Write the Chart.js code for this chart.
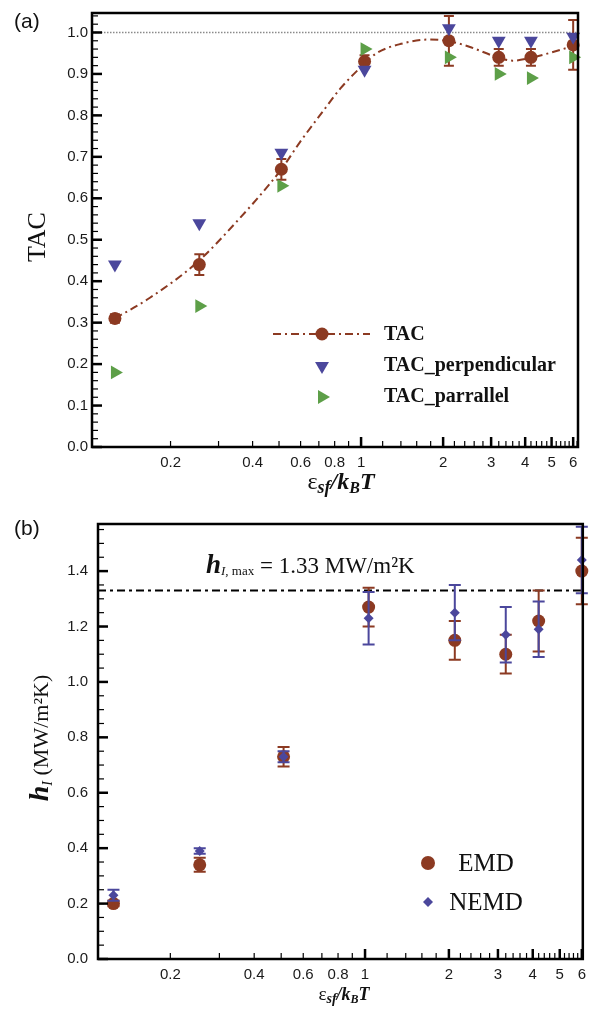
<!DOCTYPE html>
<html>
<head>
<meta charset="utf-8">
<title>TAC and interfacial thermal conductance</title>
<script src="https://cdn.jsdelivr.net/npm/chart.js@4.4.1/dist/chart.umd.min.js"></script>
<style>
  body { margin: 0; background: #fff; }
  .panel { position: absolute; left: 0; width: 593px; }
  #panelA { top: 0; height: 505px; }
  #panelB { top: 505px; height: 510px; }
</style>
</head>
<body>
<div class="panel" id="panelA"><canvas id="tacChart"></canvas></div>
<div class="panel" id="panelB"><canvas id="hChart"></canvas></div>
<script>
// eps_sf / kB T for each simulation
const epsValues = [0.125, 0.255, 0.51, 1.03, 2.1, 3.2, 4.2, 6.0];

// (a) thermal accommodation coefficient
const tacValues = [0.31, 0.44, 0.67, 0.93, 0.98, 0.94, 0.94, 0.97];
const tacErrors = [0.01, 0.025, 0.025, 0.015, 0.06, 0.02, 0.02, 0.06];
const tacPerpValues = [0.44, 0.54, 0.71, 0.91, 1.01, 0.98, 0.98, 0.99];
const tacParaValues = [0.18, 0.34, 0.63, 0.96, 0.94, 0.90, 0.89, 0.94];

// dash-dot fit curve
const fitEps = [0.125, 0.168, 0.25, 0.34, 0.51, 0.596, 0.725, 0.84, 1.03, 1.14, 1.39, 1.79, 2.1, 2.51, 3.2, 3.6, 4.2, 6.0];
const fitTac = [0.31, 0.36, 0.445, 0.535, 0.67, 0.735, 0.81, 0.865, 0.925, 0.95, 0.972, 0.983, 0.979, 0.965, 0.939, 0.932, 0.939, 0.967];

// (b) interfacial conductance h_I (MW/m2K)
const emdValues = [0.20, 0.34, 0.73, 1.27, 1.15, 1.10, 1.22, 1.40];
const emdErrors = [0.01, 0.025, 0.035, 0.07, 0.07, 0.07, 0.11, 0.12];
const nemdValues = [0.23, 0.39, 0.73, 1.23, 1.25, 1.17, 1.19, 1.44];
const nemdErrors = [0.02, 0.01, 0.02, 0.095, 0.10, 0.10, 0.10, 0.12];
const hMax = 1.33;

// tick labels
const xLabels = [0.2, 0.4, 0.6, 0.8, 1, 2, 3, 4, 5, 6];
const xLongTicks = [1, 2, 3, 4, 5, 6];
const xShortTicks = [0.2, 0.3, 0.4, 0.5, 0.6, 0.7, 0.8, 0.9, 1.2, 1.4, 1.6, 1.8, 2.2, 2.4, 2.6, 2.8,
  3.2, 3.4, 3.6, 3.8, 4.2, 4.4, 4.6, 4.8, 5.2, 5.4, 5.6, 5.8, 6.2];
const tacYLabels = [0, 0.1, 0.2, 0.3, 0.4, 0.5, 0.6, 0.7, 0.8, 0.9, 1.0];
const hYLabels = [0, 0.2, 0.4, 0.6, 0.8, 1.0, 1.2, 1.4];

const BROWN = "#8c3a22";
const BLUE = "#4b479c";
const GREEN = "#5d9f48";
const SERIF = '"Liberation Serif", "Times New Roman", serif';
const SANS = '"Liberation Sans", Arial, sans-serif';

function points(xs, ys) {
  return xs.map((x, i) => ({ x: x, y: ys[i] }));
}

function steps(max, step) {
  const out = [];
  for (let v = 0; v <= max + 1e-9; v += step) out.push(Math.round(v * 1000) / 1000);
  return out;
}

function drawRuns(ctx, runs, x, y, center) {
  let total = 0;
  runs.forEach(r => { ctx.font = r.font; r.w = ctx.measureText(r.t).width; total += r.w; });
  let cx = center ? x - total / 2 : x;
  runs.forEach(r => {
    ctx.font = r.font;
    ctx.fillText(r.t, cx, y + (r.dy || 0));
    cx += r.w;
  });
}

// error bars, inward ticks and box frame
const decorPlugin = {
  id: "decor",
  beforeDatasetsDraw(chart, args, opts) {
    const { ctx, chartArea: a, scales } = chart;
    if (opts.refLine == null) return;
    const py = scales.y.getPixelForValue(opts.refLine);
    ctx.save();
    ctx.strokeStyle = opts.refColor;
    ctx.lineWidth = opts.refWidth;
    ctx.setLineDash(opts.refDash);
    ctx.beginPath();
    ctx.moveTo(a.left, py);
    ctx.lineTo(a.right, py);
    ctx.stroke();
    ctx.restore();
  },
  afterDatasetDraw(chart, args) {
    const ds = chart.data.datasets[args.index];
    if (!ds.errors) return;
    const { ctx, scales } = chart;
    ctx.save();
    ctx.strokeStyle = ds.errorColor;
    ctx.lineWidth = 2;
    args.meta.data.forEach((pt, i) => {
      const top = scales.y.getPixelForValue(ds.data[i].y + ds.errors[i]);
      const bot = scales.y.getPixelForValue(ds.data[i].y - ds.errors[i]);
      const c = ds.capWidth / 2;
      ctx.beginPath();
      ctx.moveTo(pt.x, top); ctx.lineTo(pt.x, bot);
      ctx.moveTo(pt.x - c, top); ctx.lineTo(pt.x + c, top);
      ctx.moveTo(pt.x - c, bot); ctx.lineTo(pt.x + c, bot);
      ctx.stroke();
    });
    ctx.restore();
  },
  afterDraw(chart, args, opts) {
    const { ctx, chartArea: a, scales: { x, y } } = chart;
    ctx.save();
    ctx.strokeStyle = "#000";
    const tick = (list, len, w, axis) => {
      ctx.lineWidth = w;
      list.forEach(v => {
        if (axis === "x") {
          if (v < x.min || v > x.max) return;
          const px = x.getPixelForValue(v);
          ctx.beginPath(); ctx.moveTo(px, a.bottom); ctx.lineTo(px, a.bottom - len); ctx.stroke();
        } else {
          if (v < y.min || v > y.max) return;
          const py = y.getPixelForValue(v);
          ctx.beginPath(); ctx.moveTo(a.left, py); ctx.lineTo(a.left + len, py); ctx.stroke();
        }
      });
    };
    tick(xShortTicks, 6, 1.2, "x");
    tick(xLongTicks, 10, 2.5, "x");
    tick(opts.yMinor, 6, 1.2, "y");
    tick(opts.yMajor, 10, 2.5, "y");
    ctx.lineWidth = 2.5;
    ctx.strokeRect(a.left, a.top, a.right - a.left, a.bottom - a.top);
    ctx.restore();
    ctx.save();
    ctx.fillStyle = "#111";
    ctx.textAlign = "left";
    ctx.textBaseline = "alphabetic";
    opts.text(ctx, chart);
    ctx.restore();
  }
};

function baseOptions(cfg) {
  return {
    responsive: true,
    maintainAspectRatio: false,
    animation: false,
    devicePixelRatio: 1,
    layout: { padding: cfg.padding },
    plugins: {
      legend: { display: false },
      tooltip: { enabled: false },
      decor: cfg.decor
    },
    scales: {
      x: {
        type: "logarithmic",
        min: cfg.xMin,
        max: cfg.xMax,
        grid: { display: false, drawTicks: false },
        border: { display: false },
        afterBuildTicks: s => { s.ticks = xLabels.map(v => ({ value: v })); },
        afterFit: s => { s.height = cfg.xHeight; },
        ticks: {
          autoSkip: false, maxRotation: 0, padding: 7, color: "#1a1a1a",
          font: { family: SANS, size: 15 },
          callback: v => String(v)
        }
      },
      y: {
        min: 0,
        max: cfg.yMax,
        grid: { display: false, drawTicks: false },
        border: { display: false },
        afterBuildTicks: s => { s.ticks = cfg.yLabels.map(v => ({ value: v })); },
        afterFit: s => { s.width = cfg.yWidth; },
        ticks: {
          padding: cfg.yPad, color: "#1a1a1a",
          font: { family: SANS, size: 15 },
          callback: v => Number(v).toFixed(1)
        }
      }
    }
  };
}

// ---------- (a) TAC ----------
new Chart(document.getElementById("tacChart"), {
  type: "scatter",
  plugins: [decorPlugin],
  data: {
    datasets: [
      {
        label: "TAC_perpendicular",
        data: points(epsValues, tacPerpValues),
        pointStyle: "triangle", pointRotation: 180, pointRadius: 8,
        pointBackgroundColor: BLUE, pointBorderWidth: 0, clip: false
      },
      {
        label: "TAC_parrallel",
        data: points(epsValues, tacParaValues),
        pointStyle: "triangle", pointRotation: 90, pointRadius: 8,
        pointBackgroundColor: GREEN, pointBorderWidth: 0, clip: false
      },
      {
        label: "TAC",
        data: points(epsValues, tacValues),
        errors: tacErrors, errorColor: BROWN, capWidth: 10,
        pointStyle: "circle", pointRadius: 6.5,
        pointBackgroundColor: BROWN, pointBorderWidth: 0, clip: false
      },
      {
        label: "fit",
        data: points(fitEps, fitTac),
        showLine: true, pointRadius: 0, cubicInterpolationMode: "monotone",
        borderColor: BROWN, borderWidth: 2, borderDash: [8, 4, 2, 4]
      }
    ]
  },
  options: baseOptions({
    padding: { top: 3, right: 15, left: 0, bottom: 0 },
    xMin: 0.103, xMax: 6.25, xHeight: 58,
    yMax: 1.047, yLabels: tacYLabels, yWidth: 92, yPad: 4,
    decor: {
      refLine: 1.0, refColor: "#8a8a8a", refWidth: 1.5, refDash: [1.5, 1.5],
      yMajor: tacYLabels, yMinor: steps(1.04, 0.02),
      text: (ctx) => {
        ctx.font = `21px ${SANS}`;
        ctx.fillText("(a)", 14, 28);
        // y title
        ctx.save();
        ctx.translate(45, 237);
        ctx.rotate(-Math.PI / 2);
        ctx.textAlign = "center";
        ctx.font = `26px ${SERIF}`;
        ctx.fillText("TAC", 0, 0);
        ctx.restore();
        // x title
        drawRuns(ctx, [
          { t: "ε", font: `24px ${SERIF}` },
          { t: "sf", font: `bold italic 18px ${SERIF}`, dy: 4 },
          { t: "/k", font: `bold italic 24px ${SERIF}` },
          { t: "B", font: `bold italic 16px ${SERIF}`, dy: 4 },
          { t: "T", font: `bold italic 24px ${SERIF}` }
        ], 341, 489, true);
        // legend
        ctx.save();
        ctx.strokeStyle = BROWN;
        ctx.lineWidth = 2;
        ctx.setLineDash([8, 4, 2, 4]);
        ctx.beginPath(); ctx.moveTo(273, 334); ctx.lineTo(370, 334); ctx.stroke();
        ctx.setLineDash([]);
        ctx.fillStyle = BROWN;
        Chart.helpers.drawPoint(ctx, { pointStyle: "circle", radius: 6.5, rotation: 0, borderWidth: 0 }, 322, 334);
        ctx.fillStyle = BLUE;
        Chart.helpers.drawPoint(ctx, { pointStyle: "triangle", radius: 8, rotation: 180, borderWidth: 0 }, 322, 366);
        ctx.fillStyle = GREEN;
        Chart.helpers.drawPoint(ctx, { pointStyle: "triangle", radius: 8, rotation: 90, borderWidth: 0 }, 322, 397);
        ctx.restore();
        ctx.font = `bold 20px ${SERIF}`;
        ctx.textBaseline = "middle";
        ctx.fillText("TAC", 384, 335);
        ctx.fillText("TAC_perpendicular", 384, 366);
        ctx.fillText("TAC_parrallel", 384, 397);
      }
    }
  })
});

// ---------- (b) h_I ----------
new Chart(document.getElementById("hChart"), {
  type: "scatter",
  plugins: [decorPlugin],
  data: {
    datasets: [
      {
        label: "NEMD",
        data: points(epsValues, nemdValues),
        errors: nemdErrors, errorColor: BLUE, capWidth: 12,
        pointStyle: "rectRot", pointRadius: 5,
        pointBackgroundColor: BLUE, pointBorderWidth: 0, clip: false
      },
      {
        label: "EMD",
        data: points(epsValues, emdValues),
        errors: emdErrors, errorColor: BROWN, capWidth: 12,
        pointStyle: "circle", pointRadius: 6.5,
        pointBackgroundColor: BROWN, pointBorderWidth: 0, clip: false
      }
    ]
  },
  options: baseOptions({
    padding: { top: 12, right: 10, left: 0, bottom: 0 },
    xMin: 0.11, xMax: 6.05, xHeight: 56,
    yMax: 1.57, yLabels: hYLabels, yWidth: 98, yPad: 10,
    decor: {
      refLine: hMax, refColor: "#000", refWidth: 2, refDash: [8, 4, 3, 4],
      yMajor: hYLabels, yMinor: steps(1.55, 0.05),
      text: (ctx) => {
        ctx.font = `21px ${SANS}`;
        ctx.fillText("(b)", 14, 30);
        // y title
        ctx.save();
        ctx.translate(48, 233);
        ctx.rotate(-Math.PI / 2);
        drawRuns(ctx, [
          { t: "h", font: `bold italic 28px ${SERIF}` },
          { t: "I", font: `italic 14px ${SERIF}`, dy: 4 },
          { t: " (MW/m²K)", font: `22px ${SERIF}` }
        ], 0, 0, true);
        ctx.restore();
        // x title
        drawRuns(ctx, [
          { t: "ε", font: `19px ${SERIF}` },
          { t: "sf", font: `bold italic 14px ${SERIF}`, dy: 3 },
          { t: "/k", font: `bold italic 18px ${SERIF}` },
          { t: "B", font: `bold italic 12px ${SERIF}`, dy: 3 },
          { t: "T", font: `bold italic 18px ${SERIF}` }
        ], 344, 495, true);
        // h_I,max label
        drawRuns(ctx, [
          { t: "h", font: `bold italic 27px ${SERIF}` },
          { t: "I", font: `italic 13px ${SERIF}`, dy: 2 },
          { t: ", max", font: `13px ${SERIF}`, dy: 2 },
          { t: " = 1.33 MW/m²K", font: `23px ${SERIF}` }
        ], 206, 68, false);
        // legend
        ctx.fillStyle = BROWN;
        Chart.helpers.drawPoint(ctx, { pointStyle: "circle", radius: 7, rotation: 0, borderWidth: 0 }, 428, 358);
        ctx.fillStyle = BLUE;
        Chart.helpers.drawPoint(ctx, { pointStyle: "rectRot", radius: 5, rotation: 0, borderWidth: 0 }, 428, 397);
        ctx.fillStyle = "#111";
        ctx.font = `25px ${SERIF}`;
        ctx.textAlign = "center";
        ctx.textBaseline = "middle";
        ctx.fillText("EMD", 486, 359);
        ctx.fillText("NEMD", 486, 398);
      }
    }
  })
});
</script>
</body>
</html>
